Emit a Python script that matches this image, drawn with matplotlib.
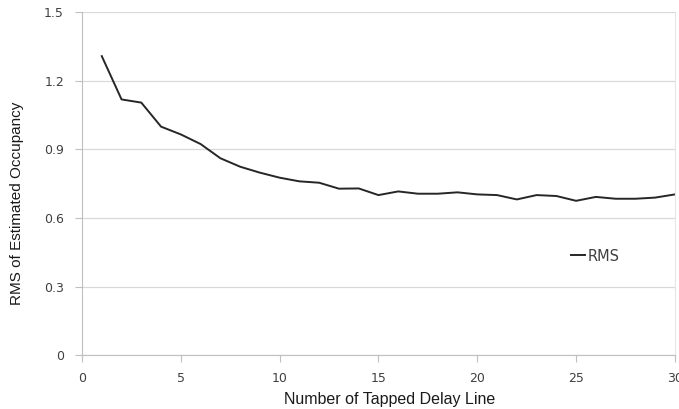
import matplotlib
matplotlib.use("Agg")
import matplotlib.pyplot as plt
import numpy as np

# --- RMS of estimated occupancy vs number of tapped delay lines --- #
taps = np.arange(1, 31)
rms = [1.307, 1.118, 1.104, 0.999, 0.965, 0.923, 0.861, 0.824, 0.798, 0.776,
       0.760, 0.754, 0.728, 0.729, 0.700, 0.716, 0.706, 0.706, 0.712, 0.703,
       0.700, 0.681, 0.700, 0.696, 0.675, 0.692, 0.684, 0.684, 0.689, 0.703]

x_ticks = [0, 5, 10, 15, 20, 25, 30]
y_ticks = [0, 0.3, 0.6, 0.9, 1.2, 1.5]
y_tick_labels = ["0", "0.3", "0.6", "0.9", "1.2", "1.5"]

grid_col = "#d9d9d9"
axis_col = "#bfbfbf"
tick_font = "DejaVu Sans"
label_font = "Liberation Sans"

fig = plt.figure(figsize=(6.79, 4.09), dpi=100)
ax = fig.add_axes([0.1208, 0.1313, 0.8732, 0.8394])

ax.plot(taps, rms, color="#262626", linewidth=1.4, label="RMS")

ax.set_xlim(0, 30)
ax.set_ylim(0, 1.5)
ax.set_xticks(x_ticks)
ax.set_yticks(y_ticks)
ax.set_yticklabels(y_tick_labels)

ax.yaxis.grid(True, color=grid_col, linewidth=0.9)
ax.set_axisbelow(True)

ax.spines["top"].set_visible(False)
ax.spines["left"].set_color(axis_col)
ax.spines["bottom"].set_color(axis_col)
ax.spines["right"].set_color("#e6e6e6")

ax.tick_params(axis="both", colors=axis_col, length=5, width=0.8, direction="out")
for lab in ax.get_xticklabels() + ax.get_yticklabels():
	lab.set_color("#404040")
	lab.set_fontfamily(tick_font)
	lab.set_fontsize(9)
ax.tick_params(axis="x", pad=7)
ax.tick_params(axis="y", pad=8)

ax.set_xlabel("Number of Tapped Delay Line", fontfamily=label_font, fontsize=11.5, color="#1a1a1a")
ax.set_ylabel("RMS of Estimated Occupancy", fontfamily=label_font, fontsize=11, color="#1a1a1a")
ax.xaxis.set_label_coords(0.518, -0.107)
ax.yaxis.set_label_coords(-0.098, 0.444)

leg = ax.legend(loc="center left", bbox_to_anchor=(0.824, 0.289), frameon=False,
		handlelength=1.0, handletextpad=0.2, borderaxespad=0, borderpad=0,
		prop={"family": tick_font, "size": 10.5})
for t in leg.get_texts():
	t.set_color("#404040")

fig.savefig("out.png", dpi=100)
